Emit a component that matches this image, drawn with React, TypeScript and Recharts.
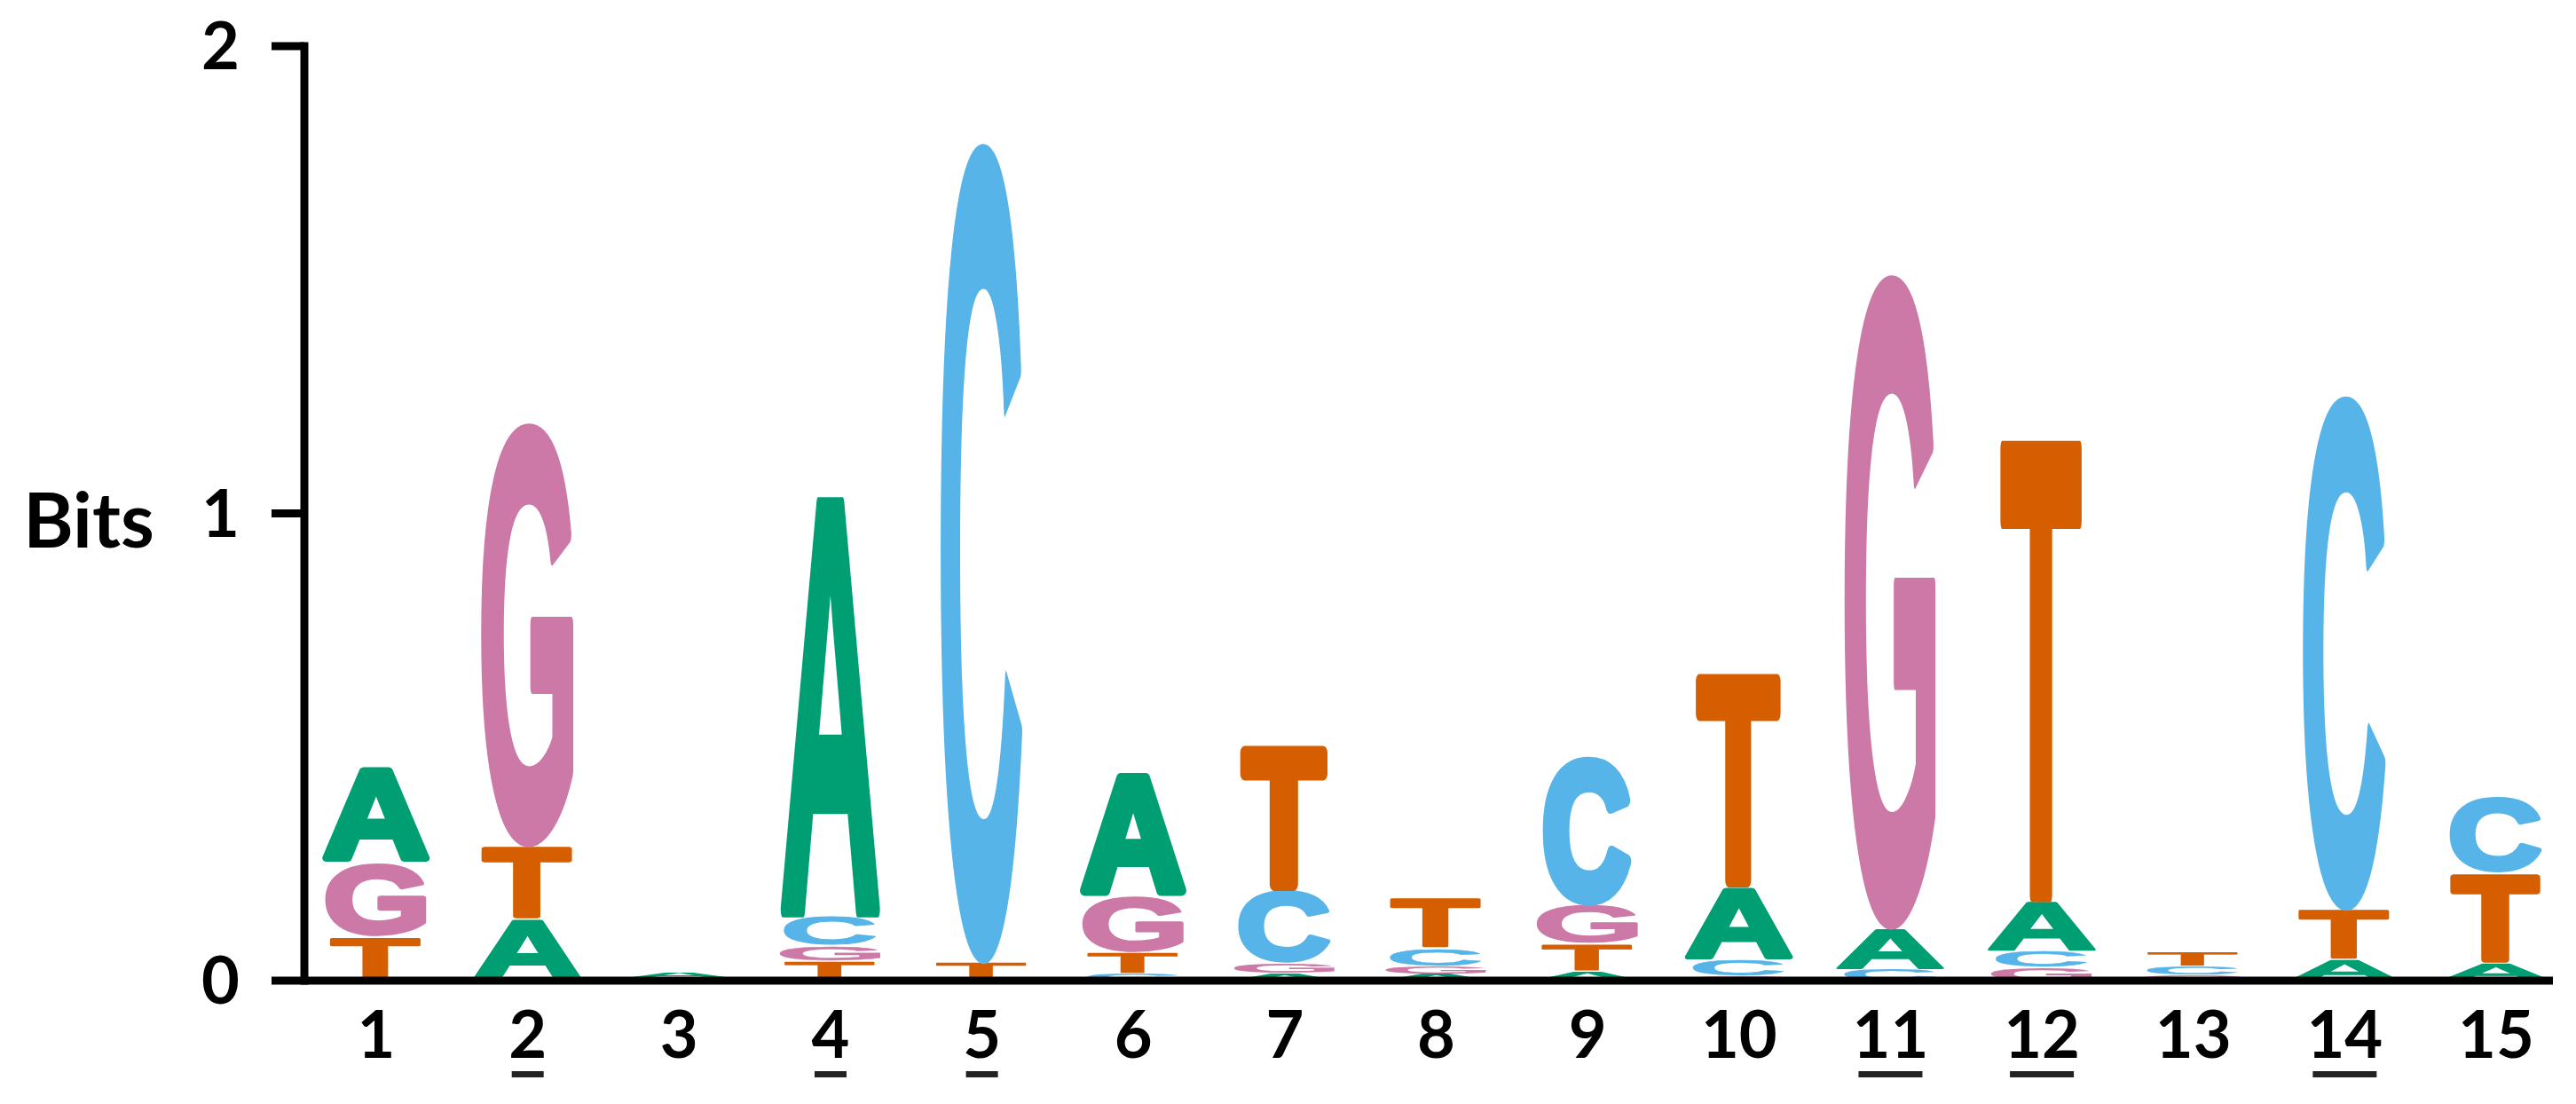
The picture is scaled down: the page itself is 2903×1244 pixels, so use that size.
import React from "react";
import { BarChart, Bar, XAxis, YAxis } from "recharts";

document.body.style.margin = "0";

// positions along the motif
const positions = [1, 2, 3, 4, 5, 6, 7, 8, 9, 10, 11, 12, 13, 14, 15];
const underlined = [2, 4, 5, 11, 12, 14];
const yTicks = [0, 1, 2];

// information (bits) carried by each base at each position
const heightA = [0.207, 0.133, 0.014, 0.905, 0, 0.266, 0.015, 0.015, 0.021, 0.159, 0.09, 0.11, 0, 0.045, 0.037];
const heightC = [0, 0, 0, 0.065, 1.75, 0.015, 0.157, 0.038, 0.314, 0.034, 0.023, 0.035, 0.019, 1.094, 0.162];
const heightG = [0.159, 0.9, 0, 0.033, 0, 0.123, 0.022, 0.016, 0.083, 0.01, 1.395, 0.028, 0.012, 0, 0];
const heightT = [0.094, 0.157, 0.005, 0.042, 0.04, 0.045, 0.312, 0.109, 0.058, 0.457, 0, 0.994, 0.032, 0.109, 0.194];

// stacking order, bottom to top
const stackOrder = ["CTGA", "CATG", "CGTA", "TGCA", "AGTC", "CTGA", "AGCT", "AGCT", "ATGC", "GCAT", "TCAG", "GCAT", "AGCT", "GATC", "GATC"];

const heights: Record<string, number[]> = { A: heightA, C: heightC, G: heightG, T: heightT };

const letterColor: Record<string, string> = {
  A: "#009E73",
  C: "#56B4E9",
  G: "#CC79A7",
  T: "#D55E00",
};

// share of the column width each glyph fills
const letterWidth: Record<string, number> = { A: 1, C: 0.85, G: 0.93, T: 0.84 };

const data = positions.map((pos, i) => {
  const order = stackOrder[i];
  const row: any = { pos, order };
  order.split("").forEach((l, r) => {
    row["r" + r] = heights[l][i];
  });
  return row;
});

const GLYPH_FONT = '"Liberation Sans", Arial, sans-serif';
const LABEL_FONT = "Lato, 'Open Sans', sans-serif";

type Box = { l: number; r: number; a: number; d: number };

function measureGlyphs(): Record<string, Box> {
  const fallback: Record<string, Box> = {
    A: { l: 0, r: 72, a: 72, d: 0 },
    C: { l: -4, r: 68, a: 73, d: 1.5 },
    G: { l: -4, r: 73, a: 73, d: 1.5 },
    T: { l: -2, r: 59, a: 72, d: 0 },
  };
  try {
    const c = document.createElement("canvas");
    const ctx = c.getContext("2d");
    if (!ctx) return fallback;
    ctx.font = `bold 100px ${GLYPH_FONT}`;
    ctx.textAlign = "left";
    ctx.textBaseline = "alphabetic";
    const out: Record<string, Box> = {};
    for (const l of ["A", "C", "G", "T"]) {
      const m = ctx.measureText(l);
      out[l] = {
        l: m.actualBoundingBoxLeft,
        r: m.actualBoundingBoxRight,
        a: m.actualBoundingBoxAscent,
        d: m.actualBoundingBoxDescent,
      };
      if (!(out[l].l + out[l].r > 0) || !(out[l].a + out[l].d > 0)) return fallback;
    }
    return out;
  } catch (e) {
    return fallback;
  }
}

const glyphBox = measureGlyphs();

function letterShape(rank: number) {
  return (props: any) => {
    const { x, y, width, height, payload } = props;
    if (!height || height <= 0) return <g />;
    const letter = payload.order[rank];
    const m = glyphBox[letter];
    // heavier look: outline the glyph, and shrink its box to keep the outer edge in place
    const s = Math.min(13, height * 0.08);
    const gw = width * letterWidth[letter] - s;
    const gh = height - s;
    const sx = gw / (m.l + m.r);
    const sy = gh / (m.a + m.d);
    const left = x + (width - gw) / 2;
    const top = y + s / 2;
    return (
      <text
        transform={`translate(${left},${top}) scale(${sx},${sy}) translate(${m.l},${m.a})`}
        fontFamily={GLYPH_FONT}
        fontWeight="bold"
        fontSize={100}
        fill={letterColor[letter]}
        stroke={letterColor[letter]}
        strokeWidth={s}
        strokeLinejoin="round"
        vectorEffect="non-scaling-stroke"
      >
        {letter}
      </text>
    );
  };
}

const XTick = (props: any) => {
  const { x, y, payload } = props;
  const v = payload.value;
  const w = String(v).length > 1 ? 72 : 36;
  return (
    <g>
      <text x={x} y={y + 87} textAnchor="middle" fontFamily={LABEL_FONT} fontWeight="bold" fontSize={74} fill="#000">
        {v}
      </text>
      {underlined.includes(v) && <rect x={x - w / 2} y={y + 102} width={w} height={7} fill="#222" />}
    </g>
  );
};

const YTick = (props: any) => {
  const { x, y, payload } = props;
  return (
    <text x={x} y={y + 26} textAnchor="end" fontFamily={LABEL_FONT} fontWeight="bold" fontSize={74} fill="#000">
      {payload.value}
    </text>
  );
};

const BitsLabel = (props: any) => {
  const vb = props.viewBox || { x: 0, y: 52, width: 343, height: 1053 };
  return (
    <text x={100} y={vb.y + vb.height / 2 + 38} textAnchor="middle" fontFamily={LABEL_FONT} fontWeight="bold" fontSize={86} fill="#000">
      Bits
    </text>
  );
};

export default function App() {
  return (
    <div style={{ width: 2903, height: 1244, background: "#fff" }}>
      <BarChart width={2903} height={1244} data={data} margin={{ top: 52, right: 26, bottom: 0, left: 0 }}>
        <XAxis
          dataKey="pos"
          type="number"
          domain={[0.525, 15.375]}
          ticks={positions}
          height={139}
          tickLine={false}
          tickSize={0}
          tickMargin={0}
          axisLine={{ stroke: "#000", strokeWidth: 9 }}
          tick={<XTick />}
          interval={0}
        />
        <YAxis
          domain={[0, 2]}
          ticks={yTicks}
          width={343}
          tickSize={37}
          tickMargin={36}
          tickLine={{ stroke: "#000", strokeWidth: 9 }}
          axisLine={{ stroke: "#000", strokeWidth: 9, strokeLinecap: "square" }}
          tick={<YTick />}
          label={{ content: BitsLabel }}
        />
        {[0, 1, 2, 3].map((r) => (
          <Bar
            key={r}
            dataKey={"r" + r}
            stackId="logo"
            barSize={122}
            shape={letterShape(r)}
            isAnimationActive={false}
          />
        ))}
      </BarChart>
    </div>
  );
}
